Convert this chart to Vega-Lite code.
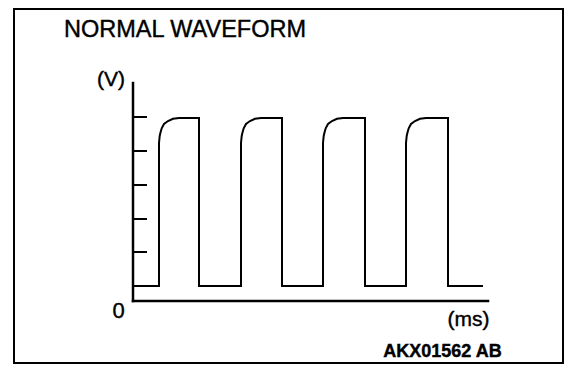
{
  "$schema": "https://vega.github.io/schema/vega-lite/v6.json",
  "width": 549,
  "height": 354,
  "autosize": {"type": "none"},
  "padding": {"left": 14, "top": 9, "right": 13, "bottom": 19},
  "background": "white",
  "config": {
    "view": {"stroke": "black", "strokeWidth": 2},
    "text": {"font": "Liberation Sans", "color": "black", "stroke": "black", "strokeWidth": 0.4}
  },
  "datasets": {
    "wave": [
      {"i": 0, "t": 0, "v": 15},
      {"i": 1, "t": 26, "v": 15}, {"i": 2, "t": 26, "v": 158}, {"i": 3, "t": 26.7, "v": 165}, {"i": 4, "t": 27.5, "v": 168.5}, {"i": 5, "t": 28.7, "v": 172.7}, {"i": 6, "t": 31, "v": 177}, {"i": 7, "t": 35, "v": 180}, {"i": 8, "t": 40, "v": 182.2}, {"i": 9, "t": 46, "v": 183}, {"i": 10, "t": 66, "v": 183}, {"i": 11, "t": 66, "v": 15},
      {"i": 12, "t": 108, "v": 15}, {"i": 13, "t": 108, "v": 158}, {"i": 14, "t": 108.7, "v": 165}, {"i": 15, "t": 109.5, "v": 168.5}, {"i": 16, "t": 110.7, "v": 172.7}, {"i": 17, "t": 113, "v": 177}, {"i": 18, "t": 117, "v": 180}, {"i": 19, "t": 122, "v": 182.2}, {"i": 20, "t": 128, "v": 183}, {"i": 21, "t": 149, "v": 183}, {"i": 22, "t": 149, "v": 15},
      {"i": 23, "t": 190, "v": 15}, {"i": 24, "t": 190, "v": 158}, {"i": 25, "t": 190.7, "v": 165}, {"i": 26, "t": 191.5, "v": 168.5}, {"i": 27, "t": 192.7, "v": 172.7}, {"i": 28, "t": 195, "v": 177}, {"i": 29, "t": 199, "v": 180}, {"i": 30, "t": 204, "v": 182.2}, {"i": 31, "t": 210, "v": 183}, {"i": 32, "t": 232, "v": 183}, {"i": 33, "t": 232, "v": 15},
      {"i": 34, "t": 273, "v": 15}, {"i": 35, "t": 273, "v": 158}, {"i": 36, "t": 273.7, "v": 165}, {"i": 37, "t": 274.5, "v": 168.5}, {"i": 38, "t": 275.7, "v": 172.7}, {"i": 39, "t": 278, "v": 177}, {"i": 40, "t": 282, "v": 180}, {"i": 41, "t": 287, "v": 182.2}, {"i": 42, "t": 293, "v": 183}, {"i": 43, "t": 315, "v": 183}, {"i": 44, "t": 315, "v": 15},
      {"i": 45, "t": 350, "v": 15}
    ],
    "axes": [
      {"t": 0, "v": 0, "t2": 0, "v2": 218},
      {"t": 0, "v": 0, "t2": 355, "v2": 0}
    ],
    "ticks": [
      {"t": 0, "t2": 14, "v": 49},
      {"t": 0, "t2": 14, "v": 82},
      {"t": 0, "t2": 14, "v": 116},
      {"t": 0, "t2": 14, "v": 150},
      {"t": 0, "t2": 14, "v": 184}
    ]
  },
  "layer": [
    {
      "data": {"name": "axes"},
      "mark": {"type": "rule", "color": "black", "strokeWidth": 2.5, "strokeCap": "square"},
      "encoding": {
        "x": {"field": "t", "type": "quantitative", "scale": {"domain": [-119, 430], "nice": false, "zero": false}, "axis": null},
        "y": {"field": "v", "type": "quantitative", "scale": {"domain": [-62, 292], "nice": false, "zero": false}, "axis": null},
        "x2": {"field": "t2"},
        "y2": {"field": "v2"}
      }
    },
    {
      "data": {"name": "ticks"},
      "mark": {"type": "rule", "color": "black", "strokeWidth": 2},
      "encoding": {
        "x": {"field": "t", "type": "quantitative", "scale": {"domain": [-119, 430], "nice": false, "zero": false}, "axis": null},
        "x2": {"field": "t2"},
        "y": {"field": "v", "type": "quantitative", "scale": {"domain": [-62, 292], "nice": false, "zero": false}, "axis": null}
      }
    },
    {
      "data": {"name": "wave"},
      "mark": {"type": "line", "color": "black", "strokeWidth": 2, "strokeJoin": "miter"},
      "encoding": {
        "x": {"field": "t", "type": "quantitative", "scale": {"domain": [-119, 430], "nice": false, "zero": false}, "axis": null},
        "y": {"field": "v", "type": "quantitative", "scale": {"domain": [-62, 292], "nice": false, "zero": false}, "axis": null},
        "order": {"field": "i", "type": "quantitative"}
      }
    },
    {
      "data": {"values": [{"label": "NORMAL WAVEFORM", "t": 52, "v": 264}]},
      "mark": {"type": "text", "fontSize": 23.5, "align": "center", "baseline": "alphabetic"},
      "encoding": {
        "x": {"field": "t", "type": "quantitative", "scale": {"domain": [-119, 430], "nice": false, "zero": false}, "axis": null},
        "y": {"field": "v", "type": "quantitative", "scale": {"domain": [-62, 292], "nice": false, "zero": false}, "axis": null},
        "text": {"field": "label"}
      }
    },
    {
      "data": {"values": [{"label": "(V)", "t": -22, "v": 215}]},
      "mark": {"type": "text", "fontSize": 21, "align": "center", "baseline": "alphabetic"},
      "encoding": {
        "x": {"field": "t", "type": "quantitative", "scale": {"domain": [-119, 430], "nice": false, "zero": false}, "axis": null},
        "y": {"field": "v", "type": "quantitative", "scale": {"domain": [-62, 292], "nice": false, "zero": false}, "axis": null},
        "text": {"field": "label"}
      }
    },
    {
      "data": {"values": [{"label": "0", "t": -14.5, "v": -17}]},
      "mark": {"type": "text", "fontSize": 22, "align": "center", "baseline": "alphabetic"},
      "encoding": {
        "x": {"field": "t", "type": "quantitative", "scale": {"domain": [-119, 430], "nice": false, "zero": false}, "axis": null},
        "y": {"field": "v", "type": "quantitative", "scale": {"domain": [-62, 292], "nice": false, "zero": false}, "axis": null},
        "text": {"field": "label"}
      }
    },
    {
      "data": {"values": [{"label": "(ms)", "t": 335.5, "v": -25}]},
      "mark": {"type": "text", "fontSize": 21, "align": "center", "baseline": "alphabetic"},
      "encoding": {
        "x": {"field": "t", "type": "quantitative", "scale": {"domain": [-119, 430], "nice": false, "zero": false}, "axis": null},
        "y": {"field": "v", "type": "quantitative", "scale": {"domain": [-62, 292], "nice": false, "zero": false}, "axis": null},
        "text": {"field": "label"}
      }
    },
    {
      "data": {"values": [{"label": "AKX01562 AB", "t": 309.5, "v": -56}]},
      "mark": {"type": "text", "fontSize": 18, "fontWeight": "bold", "align": "center", "baseline": "alphabetic"},
      "encoding": {
        "x": {"field": "t", "type": "quantitative", "scale": {"domain": [-119, 430], "nice": false, "zero": false}, "axis": null},
        "y": {"field": "v", "type": "quantitative", "scale": {"domain": [-62, 292], "nice": false, "zero": false}, "axis": null},
        "text": {"field": "label"}
      }
    }
  ]
}
